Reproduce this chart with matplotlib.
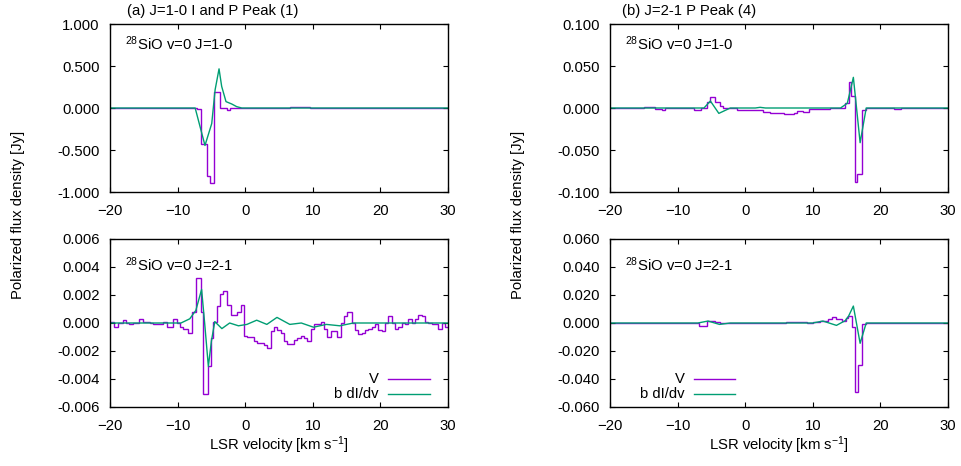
import matplotlib.pyplot as plt
from matplotlib.ticker import FormatStrFormatter, MultipleLocator

plt.rcParams['font.family'] = ['Liberation Sans', 'DejaVu Sans']
plt.rcParams['font.size'] = 10.7
plt.rcParams['mathtext.fontset'] = 'custom'
plt.rcParams['mathtext.rm'] = 'Liberation Sans'
plt.rcParams['mathtext.it'] = 'Liberation Sans'

V_COLOR = '#9400d3'
DIDV_COLOR = '#009e73'

# (a) J=1-0 I and P Peak (1), SiO J=1-0: Stokes V as channel edges / values
a10_v_edges = [-20, -7.2, -6.6, -5.7, -5.2, -4.6, -3.7, -2.7, -2.2, 6.6, 9.6, 30]
a10_v_vals = [0.0, -0.016, -0.426, -0.807, -0.896, 0.189, -0.004, -0.024, 0.0, 0.012, 0.0]
a10_didv_vel = [-20, -7.4, -5.95, -4.95, -4.45, -3.87, -3.48, -2.84, -2.0, -1.26, -0.5, 30]
a10_didv = [0, 0, -0.446, -0.185, 0.217, 0.466, 0.257, 0.076, 0.048, 0.016, 0, 0]

# (a) SiO J=2-1
a21_v_edges = [-20, -19.41, -18.77, -18.13, -17.63, -17.14, -16.65, -15.66, -15.17, -14.58,
               -14.08, -13.59, -13.09, -12.11, -11.61, -10.63, -10.14, -9.64, -9.15, -8.41,
               -7.92, -7.28, -6.58, -6.19, -5.55, -5.11, -4.71, -4.22, -3.72, -3.23,
               -2.64, -2.15, -1.16, -0.67, -0.17, 0.32, 1.31, 1.8, 2.78, 3.28,
               3.77, 4.26, 4.76, 5.25, 5.74, 6.24, 7.22, 7.62, 8.21, 8.7,
               9.19, 9.69, 10.18, 11.17, 11.66, 12.15, 12.65, 13.14, 13.63, 14.13,
               14.62, 15.11, 15.75, 16.25, 16.74, 17.23, 17.73, 18.22, 18.71, 19.2,
               19.7, 20.19, 20.68, 21.18, 21.67, 22.16, 22.66, 23.15, 23.64, 24.13,
               24.63, 25.12, 25.61, 26.11, 26.6, 27.09, 27.59, 28.08, 28.57, 29.07,
               29.56, 30]
a21_v_vals = [0.0001, -0.0003, 0.0, 0.0002, 0.0, -0.0001, 0.0, 0.0003, 0.0001, 0.0001,
              0.0, -0.0001, -0.0001, 0.0001, -0.0003, 0.0003, 0.0, -0.0003, -0.0004, -0.0007,
              0.0008, 0.0032, 0.0008, -0.0051, -0.0031, -0.0011, 0.0001, 0.0012, 0.0021, 0.0023,
              0.0013, 0.0006, 0.0008, 0.0013, -0.0009, -0.001, -0.0013, -0.0014, -0.0016, -0.0018,
              -0.0006, -0.0003, -0.0005, -0.0007, -0.0013, -0.0015, -0.0012, -0.0011, -0.0009, -0.0011,
              -0.0013, -0.0004, -0.0001, 0.0001, -0.0004, -0.001, -0.0006, -0.0006, -0.001, 0.0,
              0.0005, 0.0008, 0.0, -0.0005, -0.0008, -0.0007, -0.0005, -0.0004, -0.0003, -0.0001,
              -0.0005, -0.0006, 0.0, 0.0005, 0.0, -0.0004, -0.0003, 0.0, -0.0001, 0.0003,
              0.0, 0.0003, 0.0006, 0.0005, 0.0001, 0.0, -0.0001, -0.0001, -0.0004, 0.0,
              -0.0003]
a21_didv_vel = [-20, -9.5, -8.2, -7.3, -6.45, -6.0, -5.45, -5.0, -4.5, -3.45, -2.3, -1.0,
                0.25, 1.7, 3.2, 4.7, 6.6, 8.3, 10.1, 12.0, 14.0, 16.0, 30]
a21_didv = [0, 0, 0.0003, 0.0009, 0.0024, 0.0, -0.0031, -0.0013, 0.0001, -0.0004, 0.0, -0.0002,
            -0.0001, 0.0002, -0.0001, 0.0004, -0.0001, 0.0, -0.0003, -0.0001, -0.0002, 0.0, 0.0]

# (b) J=2-1 P Peak (4), SiO J=1-0
b10_v_edges = [-20, -15.0, -13.3, -12.3, -11.8, -7.6, -6.6, -5.65, -5.25, -4.4, -3.8, -3.3,
               -1.2, 2.7, 3.7, 5.7, 7.2, 7.7, 8.6, 9.4, 10.6, 12.6, 14.7, 15.3, 15.7, 16.2,
               16.55, 17.27, 17.9, 22.0, 23.0, 30]
b10_v_vals = [0.0, 0.0015, -0.0008, -0.002, 0.0003, -0.002, 0.0, 0.0075, 0.0127, 0.0075, 0.0024,
              -0.0005, -0.0024, -0.0044, -0.0064, -0.007, -0.0055, -0.003, -0.005, -0.0015, -0.0008,
              0.0005, 0.0065, 0.0306, 0.0143, -0.0877, -0.078, -0.0024, 0.0, -0.001, 0.0]
b10_didv_vel = [-20, -6.1, -5.15, -3.9, -2.2, 1.5, 2.2, 3.0, 14.1, 15.1, 15.5, 16.0, 17.0, 17.9, 30]
b10_didv = [0, 0, 0.0083, -0.0064, 0, 0, 0.0008, 0, 0, 0.0056, 0.019, 0.0365, -0.0413, 0, 0]

# (b) SiO J=2-1
b21_v_edges = [-20, -6.9, -5.65, -5.15, -4.4, -3.7, 6.1, 7.1, 9.1, 10.1, 11.1, 12.3, 12.8,
               13.4, 14.3, 14.9, 15.25, 15.75, 16.2, 16.65, 17.3, 17.9, 30]
b21_v_vals = [0, -0.0019, 0.0014, 0.0017, 0.001, 0.0, 0.0007, 0.0005, 0.0, 0.0007, 0.0014,
              0.0026, 0.004, 0.0026, 0.0014, 0.0033, 0.005, -0.003, -0.049, -0.030, -0.001, 0.0]
b21_didv_vel = [-20, -7.0, -5.5, -3.8, -2.2, 10.0, 11.5, 13.5, 14.8, 15.3, 16.0, 17.0, 17.9, 30]
b21_didv = [0, 0, 0.0014, -0.001, 0, 0, 0.0014, -0.0017, 0.0017, 0.005, 0.0121, -0.0145, 0, 0]

vel_ticks = [-20, -10, 0, 10, 20, 30]

W, H = 961, 466


def add_panel(fig, x0, y0, x1, y1):
    # pixel box -> figure fraction
    return fig.add_axes([x0 / W, 1 - y1 / H, (x1 - x0) / W, (y1 - y0) / H])


def draw_panel(ax, v_edges, v_vals, didv_vel, didv, ylim, ystep, label, label_y):
    ax.stairs(v_vals, v_edges, baseline=None, color=V_COLOR, lw=1.0)
    ax.plot(didv_vel, didv, color=DIDV_COLOR, lw=1.0)
    ax.set_xlim(-20, 30)
    ax.set_ylim(-ylim, ylim)
    ax.set_xticks(vel_ticks)
    ax.yaxis.set_major_locator(MultipleLocator(ystep))
    ax.yaxis.set_major_formatter(FormatStrFormatter('%.3f'))
    ax.tick_params(direction='in', top=True, right=True, length=3.6, width=0.8)
    ax.tick_params(axis='y', pad=7.5)
    ax.tick_params(axis='x', pad=8.5)
    for s in ax.spines.values():
        s.set_linewidth(1.0)
    ax.text(0.044, label_y, label, transform=ax.transAxes, ha='left', va='center')


def draw_key(ax, text_right, line_x0, line_x1):
    for y, name, col in [(0.167, 'V', V_COLOR), (0.075, 'b dI/dv', DIDV_COLOR)]:
        ax.text(text_right, y, name, transform=ax.transAxes, ha='right', va='center')
        ax.plot([line_x0, line_x1], [y, y], transform=ax.transAxes, color=col, lw=1.0)


def main():
    fig = plt.figure(figsize=(9.61, 4.66), dpi=100)

    ax_a10 = add_panel(fig, 110, 24, 448, 192)
    ax_a21 = add_panel(fig, 110, 239, 448, 407)
    ax_b10 = add_panel(fig, 610, 24, 948, 192)
    ax_b21 = add_panel(fig, 610, 239, 948, 407)

    draw_panel(ax_a10, a10_v_edges, a10_v_vals, a10_didv_vel, a10_didv, 1.0, 0.5,
               r'$^{28}$SiO v=0 J=1-0', 0.885)
    draw_panel(ax_a21, a21_v_edges, a21_v_vals, a21_didv_vel, a21_didv, 0.006, 0.002,
               r'$^{28}$SiO v=0 J=2-1', 0.85)
    draw_panel(ax_b10, b10_v_edges, b10_v_vals, b10_didv_vel, b10_didv, 0.1, 0.05,
               r'$^{28}$SiO v=0 J=1-0', 0.885)
    draw_panel(ax_b21, b21_v_edges, b21_v_vals, b21_didv_vel, b21_didv, 0.06, 0.02,
               r'$^{28}$SiO v=0 J=2-1', 0.85)

    draw_key(ax_a21, 0.796, 0.822, 0.947)
    draw_key(ax_b21, 0.222, 0.249, 0.370)

    for ax in (ax_a21, ax_b21):
        ax.set_xlabel(r'LSR velocity [km s$^{-1}$]', labelpad=1)

    fig.text(127 / W, 1 - 11 / H, '(a) J=1-0 I and P Peak (1)', ha='left', va='center')
    fig.text(622 / W, 1 - 11 / H, '(b) J=2-1 P Peak (4)', ha='left', va='center')
    fig.text(18 / W, 1 - 215 / H, 'Polarized flux density [Jy]', rotation=90,
             ha='center', va='center')
    fig.text(518 / W, 1 - 215 / H, 'Polarized flux density [Jy]', rotation=90,
             ha='center', va='center')

    fig.savefig('out.png', dpi=100)


if __name__ == '__main__':
    main()
